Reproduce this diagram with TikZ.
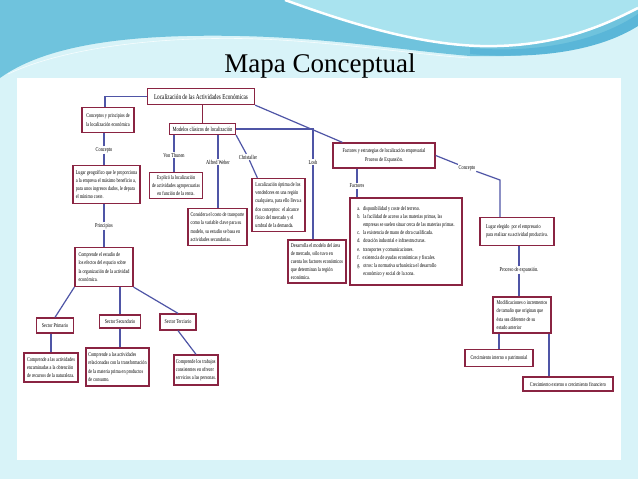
\documentclass[tikz,border=0pt]{standalone}
\usepackage{fontspec}
\setmainfont{Liberation Serif}
\newfontfamily\cmfont[FakeStretch=0.72]{Liberation Serif}
\usetikzlibrary{shadows,calc}
\definecolor{bgcyan}{HTML}{D8F3F8}
\definecolor{wavea}{HTML}{6FC3DD}
\definecolor{waveb}{HTML}{A9E3EF}
\definecolor{wavec}{HTML}{5AB6D8}
\definecolor{boxred}{HTML}{8A2442}
\definecolor{linkblue}{HTML}{4F55A6}
\tikzset{
  cbox/.style={draw=boxred, line width=1.3pt, fill=white, inner sep=1.2pt, align=left,
    font=\cmfont\fontsize{5.8}{8.2}\selectfont,
    drop shadow={shadow xshift=0.8pt, shadow yshift=-0.8pt, fill=black!50, opacity=0.5}},
  link/.style={draw=linkblue, line width=1.2pt},
  elab/.style={fill=white, inner sep=0.8pt, font=\cmfont\fontsize{6}{7}\selectfont},
}
\begin{document}
\begin{tikzpicture}[x=1pt,y=-1pt]
\useasboundingbox (0,0) rectangle (638,479);
% background
\fill[bgcyan] (0,0) rectangle (638,479);
\fill[wavea] (0,0) -- (638,0) -- (638,24) .. controls (600,48) and (540,58) .. (470,56)
  .. controls (400,50) and (330,38) .. (240,36) .. controls (140,34) and (50,42) .. (0,78) -- cycle;
\fill[wavec] (470,48) .. controls (540,54) and (600,40) .. (638,14) -- (638,26) .. controls (600,50) and (540,60) .. (470,54) -- cycle;
\fill[waveb] (285,0) .. controls (335,18) and (410,44) .. (480,46) .. controls (560,48) and (610,22) .. (638,8) -- (638,0) -- cycle;
\draw[white, line width=2.5pt] (285,0) .. controls (335,18) and (410,44) .. (480,46) .. controls (560,48) and (610,22) .. (638,8);
\draw[white, line width=0.6pt, opacity=0.8] (8,74) .. controls (70,45) and (180,34) .. (280,40) .. controls (360,45) and (420,55) .. (470,58);
\fill[white] (17,78) rectangle (621,460);
% title
\node[font=\fontsize{27}{30}\selectfont, anchor=base] (title) at (320,72) {Mapa Conceptual};
% boxes
\node[cbox, font=\cmfont\fontsize{7.3}{9}\selectfont, minimum width=107pt, minimum height=16pt] (n1) at (201,96.5) {Localización de las Actividades Económicas};
\node[cbox, minimum width=52pt, minimum height=25pt] (n2) at (108,120) {Conceptos y principios de\\la localización económica};
\node[cbox, font=\cmfont\fontsize{6.3}{7.5}\selectfont, minimum width=66pt, minimum height=11pt] (n3) at (202.5,129) {Modelos clásicos de localización};
\node[cbox, align=center, minimum width=102pt, minimum height=25pt] (n4) at (384,155.5) {Factores y estrategias de localización empresarial\\Proceso de Expansión.};
\node[cbox, minimum width=67pt, minimum height=38pt] (n5) at (106.5,184.5) {Lugar geográfico que le proporciona\\a la empresa el máximo beneficio a,\\para unos ingresos dados, le depara\\el mínimo coste.};
\node[cbox, align=center, minimum width=53pt, minimum height=26pt] (n6) at (176,185.5) {Explicó la localización\\de actividades agropecuarias\\en función de la renta.};
\node[cbox, minimum width=53pt, minimum height=53pt] (n7) at (278.5,205) {Localización óptima de los\\vendedores en una región\\cualquiera, para ello lleva a\\dos conceptos:\ \ el alcance\\físico del mercado y el\\umbral de la demanda.};
\node[cbox, minimum width=59pt, minimum height=37pt] (n8) at (217.5,227) {Considera el costo de transporte\\como la variable clave para su\\modelo, su estudio se basa en\\actividades secundarias.};
\node[cbox, minimum width=58pt, minimum height=43pt] (n9) at (317,261.5) {Desarrolla el modelo del área\\de mercado, sólo tuvo en\\cuenta los factores económicos\\que determinan la región\\económica.};
\node[cbox, minimum width=112pt, minimum height=87pt] (n10) at (406,241.5) {a.\enspace disponibilidad y coste del terreno.\\b.\enspace la facilidad de acceso a las materias primas, las\\\hspace*{6pt}empresas se suelen situar cerca de las materias primas.\\c.\enspace la existencia de mano de obra cualificada.\\d.\enspace dotación industrial e infraestructuras.\\e.\enspace transportes y comunicaciones.\\f.\enspace existencia de ayudas económicas y fiscales.\\g.\enspace otros: la normativa urbanística el desarrollo\\\hspace*{6pt}económico y social de la zona.};
\node[cbox, minimum width=74pt, minimum height=28pt] (n11) at (517,231.5) {Lugar elegido\ \ por el empresario\\para realizar su actividad productiva.};
\node[cbox, minimum width=58pt, minimum height=39pt] (n12) at (104,267) {Comprende el estudio de\\los efectos del espacio sobre\\la organización de la actividad\\económica.};
\node[cbox, minimum width=37pt, minimum height=15pt] (n13) at (55,325.5) {Sector Primario};
\node[cbox, minimum width=41pt, minimum height=13pt] (n14) at (120,321.5) {Sector Secundario};
\node[cbox, minimum width=36pt, minimum height=16pt] (n15) at (178,322) {Sector Terciario};
\node[cbox, minimum width=54pt, minimum height=29pt] (n16) at (51,367.5) {Comprende a las actividades\\encaminadas a la obtención\\de recursos de la naturaleza.};
\node[cbox, minimum width=63pt, minimum height=38pt] (n17) at (117.5,367) {Comprende a las actividades\\relacionadas con la transformación\\de la materia prima en productos\\de consumo.};
\node[cbox, minimum width=44pt, minimum height=30pt] (n18) at (196,370) {Comprende los trabajos\\consistentes en ofrecer\\servicios a las personas.};
\node[cbox, minimum width=58pt, minimum height=36pt] (n19) at (522,315) {Modificaciones o incrementos\\de tamaño que originan que\\ésta sea diferente de su\\estado anterior};
\node[cbox, minimum width=68pt, minimum height=17pt] (n20) at (499,358) {Crecimiento interno o patrimonial};
\node[cbox, minimum width=90pt, minimum height=14pt] (n21) at (568,384) {Crecimiento externo o crecimiento financiero};
% edge labels
\node[elab] (lcon1) at (104,150) {Concepto};
\node[elab] (lpr) at (104,226) {Principios};
\node[elab] (lvt) at (174,155) {Von Thunen};
\node[elab] (law) at (218,162) {Alfred Weber};
\node[elab] (lch) at (248,157) {Christaller};
\node[elab] (llosh) at (313,162) {Losh};
\node[elab] (lfa) at (357,186) {Factores};
\node[elab] (lcon2) at (467,168) {Concepto};
\node[elab] (lpe) at (519,270) {Proceso de expansión.};
\coordinate (ck) at (500,180);
\coordinate (c2) at ($(n2.north)+(-3,0)$);
\coordinate (c21) at ($(n21.north)+(-19,0)$);
% connectors
\draw[link] (n1.west) -| (c2);
\draw[draw=boxred, line width=1.2pt] (n3.north) -- (n3.north |- n1.south);
\draw[link] (n1.south east) -- ($(n4.north west)+(10,0)$);
\draw[link] (lcon1) -- (lcon1 |- n2.south);
\draw[link] (lcon1) -- (lcon1 |- n5.north);
\draw[link] (lpr) -- (lpr |- n5.south);
\draw[link] (lpr) -- (lpr |- n12.north);
\draw[link] (lvt) -- (lvt |- n3.south);
\draw[link] (lvt) -- (lvt |- n6.north);
\draw[link] (law) -- (law |- n3.south);
\draw[link] (law) -- (law |- n8.north);
\draw[link] (n3.south east) -- (lch) -- ($(n7.north west)+(6,0)$);
\draw[link] (n3.east) -| (llosh);
\draw[link] (llosh) -- (llosh |- n9.north);
\draw[link] (lfa) -- (lfa |- n4.south);
\draw[link] (lfa) -- (lfa |- n10.north);
\draw[link] (n4.east) -- (lcon2);
\draw[link] (lcon2) -- (ck) -- (ck |- n11.north);
\draw[link] (lpe) -- (lpe |- n11.south);
\draw[link] (lpe) -- (lpe |- n19.north);
\draw[link] (n20.north) -- (n20.north |- n19.south);
\draw[link] (c21) -- (c21 |- n19.south);
\draw[link] (n12.south west) -- (n13.north);
\draw[link] (n14.north) -- (n14.north |- n12.south);
\draw[link] (n12.south east) -- (n15.north);
\draw[link] (n16.north) -- (n16.north |- n13.south);
\draw[link] (n14.south) -- (n14.south |- n17.north);
\draw[link] (n15.south) -- (n18.north);
\end{tikzpicture}
\end{document}
